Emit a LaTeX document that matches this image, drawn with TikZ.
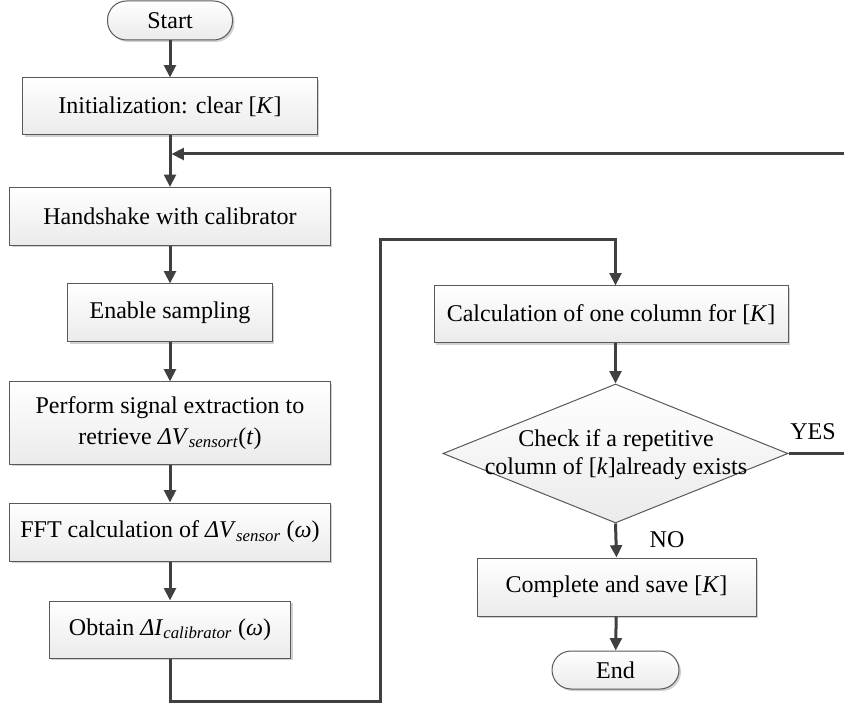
\documentclass[tikz,border=0pt]{standalone}
\usepackage{fontspec}
\setmainfont{Liberation Serif}
\usetikzlibrary{arrows.meta}
\usetikzlibrary{shapes.geometric}
\usetikzlibrary{shadows}
\usetikzlibrary{calc}

\tikzset{
    box/.style={draw=black!65, line width=0.3mm, top color=white, bottom color=black!8,
        drop shadow={shadow xshift=0.6mm, shadow yshift=-0.6mm, fill=black!30, opacity=0.6},
        inner sep=0pt, align=center, font=\fontsize{20.5}{26}\selectfont},
    term/.style={box, rounded corners=5.7mm},
    decision/.style={draw=black!65, line width=0.3mm, top color=white, bottom color=black!8,
        shape=diamond, inner sep=0pt},
    flow/.style={draw=black!75, line width=0.9mm, -{Triangle[width=3.5mm, length=3.7mm]}},
    lbl/.style={font=\fontsize{20.5}{24}\selectfont},
}

\begin{document}
\begin{tikzpicture}[x=0.3mm, y=-0.3mm]
    \useasboundingbox (0,0) rectangle (844,704);
    \clip (0,0) rectangle (844,704);

    \node[term, minimum width=37.5mm, minimum height=11.7mm] (start) at (170,20.5) {Start};
    \node[box, minimum width=88.2mm, minimum height=17.1mm] (init) at (170,106.5) {Initialization: clear [\textit{K}]};
    \node[box, minimum width=96mm, minimum height=17.4mm] (shake) at (170,216.5) {Handshake with calibrator};
    \node[box, minimum width=61.2mm, minimum height=17.4mm] (enable) at (170,313) {Enable sampling};
    \node[box, minimum width=96mm, minimum height=24.6mm] (extract) at (170,423)
        {Perform signal extraction to\\retrieve \textit{ΔV}\textsubscript{\textit{sensort}}(\textit{t})};
    \node[box, minimum width=96mm, minimum height=17.4mm] (fft) at (170,532) {FFT calculation of \textit{ΔV}\textsubscript{\textit{sensor}} (\textit{ω})};
    \node[box, minimum width=72.3mm, minimum height=17.1mm] (obtain) at (170,629.5) {Obtain \textit{ΔI}\textsubscript{\textit{calibrator}} (\textit{ω})};

    \node[box, minimum width=106.2mm, minimum height=17.1mm] (calc) at (611,314.5) {Calculation of one column for [\textit{K}]};
    \node[decision, minimum width=103.5mm, minimum height=41.7mm] (check) at (615.5,453.5) {};
    \node[lbl, align=center] (checktext) at (616,455) {Check if a repetitive\\column of [\textit{k}]already exists};
    \node[box, minimum width=83.7mm, minimum height=17.4mm] (save) at (616.5,587) {Complete and save [\textit{K}]};
    \node[term, minimum width=38.1mm, minimum height=11.4mm] (stop) at (615.5,670) {End};

    \node[lbl] (yes) at (813,432) {YES};
    \node[lbl] (no) at (667,540) {NO};

    \draw[flow] (start) -- (init);
    \draw[flow] (init) -- (shake);
    \draw[flow] (shake) -- (enable);
    \draw[flow] (enable) -- (extract);
    \draw[flow] (extract) -- (fft);
    \draw[flow] (fft) -- (obtain);

    \coordinate (low) at (380,701);
    \coordinate (high) at (380,240);
    \draw[flow] (obtain.south) |- (low) -- (high) -| (check.north |- calc.north);

    \draw[flow] (check.north |- calc.south) -- (check.north);
    \draw[flow] (check.south) -- (save.north);
    \draw[flow] (save) -- (stop);

    \coordinate (join) at (170,154);
    \coordinate (far) at (860,154);
    \draw[flow, shorten >=0.45mm] (check.east) -| (far) -- (join);

\end{tikzpicture}
\end{document}
